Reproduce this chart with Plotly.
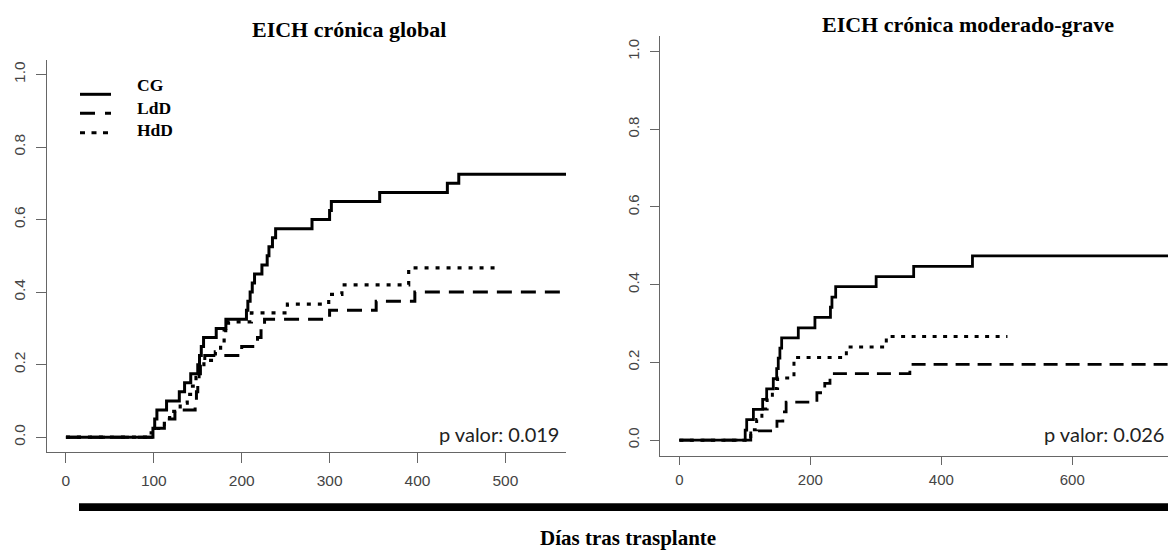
import plotly.graph_objects as go

W, H = 1168, 552

# ---------------- data ----------------
# Left panel: "EICH crónica global"
cg1_t = [0, 99, 101, 103.5, 114.5, 129, 135, 142, 150, 152, 154, 156.6, 171, 182, 205.4, 207,
         209.6, 212, 214.6, 223, 229, 231, 235, 238.6, 280, 300, 302, 357, 434, 447, 580]
cg1_y = [0, 0.025, 0.05, 0.075, 0.1, 0.125, 0.15, 0.175, 0.2, 0.225, 0.25, 0.275, 0.3, 0.325,
         0.35, 0.375, 0.4, 0.425, 0.45, 0.475, 0.5, 0.525, 0.55, 0.575, 0.6, 0.625, 0.65, 0.675,
         0.7, 0.725, 0.725]
ldd1_t = [0, 101, 112, 124, 147, 148.5, 150, 151.5, 153, 158, 200, 218, 222, 226, 300, 353, 397, 580]
ldd1_y = [0, 0.025, 0.05, 0.075, 0.1, 0.125, 0.15, 0.175, 0.2, 0.225, 0.25, 0.275, 0.3, 0.325,
          0.35, 0.375, 0.4, 0.4]
hdd1_t = [0, 93, 103, 112, 118, 130, 138, 144, 148, 152, 157, 170, 176, 180, 185, 211, 252, 299,
          314, 390, 493]
hdd1_y = [0, 0.012, 0.024, 0.047, 0.071, 0.094, 0.118, 0.141, 0.165, 0.188, 0.212, 0.235, 0.259,
          0.294, 0.318, 0.343, 0.367, 0.394, 0.42, 0.467, 0.467]

# Right panel: "EICH crónica moderado-grave"
cg2_t = [0, 100.5, 102.8, 113, 127.2, 133.3, 143.4, 148.6, 151, 153.5, 156.2, 181.6, 207, 230.7,
         233, 238.7, 300.5, 357.8, 447.6, 760]
cg2_y = [0, 0.026, 0.053, 0.079, 0.105, 0.132, 0.158, 0.184, 0.211, 0.237, 0.263, 0.289, 0.316,
         0.342, 0.368, 0.395, 0.421, 0.447, 0.474, 0.474]
ldd2_t = [0, 109, 149, 158, 163, 210, 222, 230, 352, 760]
ldd2_y = [0, 0.024, 0.049, 0.073, 0.098, 0.122, 0.146, 0.171, 0.195, 0.195]
hdd2_t = [0, 109, 118, 126, 134, 142, 150, 175, 255, 316, 501]
hdd2_y = [0, 0.027, 0.053, 0.08, 0.107, 0.133, 0.16, 0.213, 0.24, 0.267, 0.267]

titles = ["EICH crónica global", "EICH crónica moderado-grave"]
pvals = ["p valor: 0.019", "p valor: 0.026"]
group_names = ["CG", "LdD", "HdD"]
x_ticks_left = [0, 100, 200, 300, 400, 500]
x_ticks_right = [0, 200, 400, 600, 800]
y_ticks = [0.0, 0.2, 0.4, 0.6, 0.8, 1.0]
x_label = "Días tras trasplante"

# ---------------- figure ----------------
def px_x(p):
    return p / W

def px_y(p):
    return 1 - p / H

fig = go.Figure()

def add_curve(t, y, dash, width, xa, ya):
    fig.add_trace(go.Scatter(x=t, y=y, mode="lines", line_shape="hv",
                             line=dict(color="black", width=width, dash=dash),
                             xaxis=xa, yaxis=ya, hoverinfo="skip"))

add_curve(cg1_t, cg1_y, "solid", 3, "x", "y")
add_curve(ldd1_t, ldd1_y, "15px,9px", 3, "x", "y")
add_curve(hdd1_t, hdd1_y, "4px,7px", 3.2, "x", "y")
add_curve(cg2_t, cg2_y, "solid", 2.8, "x2", "y2")
add_curve(ldd2_t, ldd2_y, "14px,8px", 2.8, "x2", "y2")
add_curve(hdd2_t, hdd2_y, "4px,6.5px", 3, "x2", "y2")

tickfont_l = dict(family="Liberation Sans, Arial, sans-serif", size=15.5, color="#444")
tickfont_r = dict(family="Liberation Sans, Arial, sans-serif", size=15, color="#444")
axcol = "#666"

common = dict(showgrid=False, zeroline=False, showline=True, linecolor=axcol, linewidth=1.2,
              ticks="outside", tickcolor=axcol, tickwidth=1.2)

fig.update_layout(
    width=W, height=H, margin=dict(l=0, r=0, t=0, b=0),
    paper_bgcolor="white", plot_bgcolor="white", showlegend=False,
    xaxis=dict(domain=[px_x(46.6), px_x(566)], range=[-22, 569], tickvals=x_ticks_left,
               ticklen=10, tickfont=tickfont_l, ticklabelstandoff=5, anchor="y", **common),
    yaxis=dict(domain=[px_y(451.7), px_y(60)], range=[-0.04, 1.04], tickvals=y_ticks,
               ticktext=[f"{v:.1f}" for v in y_ticks], tickangle=-90,
               ticklen=9.5, tickfont=tickfont_l, ticklabelstandoff=5, anchor="x", **common),
    xaxis2=dict(domain=[px_x(660), 1.0], range=[-29.6, 746.2], tickvals=x_ticks_right,
                ticklen=8, tickfont=tickfont_r, ticklabelstandoff=2, anchor="y2", **common),
    yaxis2=dict(domain=[px_y(455.7), px_y(36)], range=[-0.04, 1.04], tickvals=y_ticks,
                ticktext=[f"{v:.1f}" for v in y_ticks], tickangle=-90,
                ticklen=8.5, tickfont=tickfont_r, ticklabelstandoff=5, anchor="x2", **common),
)

serif_b = "Liberation Serif, Times New Roman, serif"

annotations = [
    dict(text="<b>" + titles[0] + "</b>", x=px_x(348.7), y=px_y(29), xref="paper", yref="paper",
         xanchor="center", yanchor="middle", showarrow=False,
         font=dict(family=serif_b, size=22, color="black")),
    dict(text="<b>" + titles[1] + "</b>", x=px_x(968.4), y=px_y(25), xref="paper", yref="paper",
         xanchor="center", yanchor="middle", showarrow=False,
         font=dict(family=serif_b, size=22, color="black")),
    dict(text=pvals[0], x=px_x(561), y=px_y(434), xref="paper", yref="paper",
         xanchor="right", yanchor="middle", showarrow=False,
         font=dict(family="Lato, Open Sans, sans-serif", size=20, color="#222")),
    dict(text=pvals[1], x=px_x(1166), y=px_y(434), xref="paper", yref="paper",
         xanchor="right", yanchor="middle", showarrow=False,
         font=dict(family="Lato, Open Sans, sans-serif", size=20, color="#222")),
    dict(text="<b>" + x_label + "</b>", x=px_x(627.5), y=px_y(538), xref="paper", yref="paper",
         xanchor="center", yanchor="middle", showarrow=False,
         font=dict(family=serif_b, size=21, color="black")),
]
leg_text_y = [85.5, 108, 129.5]
for name, ty in zip(group_names, leg_text_y):
    annotations.append(dict(text="<b>" + name + "</b>", x=px_x(135), y=px_y(ty), xref="paper",
                            yref="paper", xanchor="left", yanchor="middle", showarrow=False,
                            font=dict(family=serif_b, size=17.5, color="black")))
fig.update_layout(annotations=annotations)

shapes = [
    # thick bar above the x label
    dict(type="rect", xref="paper", yref="paper", x0=px_x(79), x1=1.0,
         y0=px_y(511), y1=px_y(503.3), fillcolor="black", line=dict(width=0)),
]
leg_line_y = [94.3, 113.3, 132.7]
leg_dash = ["solid", "15px,10px", "5px,6.5px"]
for ly, d in zip(leg_line_y, leg_dash):
    shapes.append(dict(type="line", xref="paper", yref="paper", x0=px_x(80), x1=px_x(111),
                       y0=px_y(ly), y1=px_y(ly), line=dict(color="black", width=3, dash=d)))
fig.update_layout(shapes=shapes)

fig.write_html("out.html")
